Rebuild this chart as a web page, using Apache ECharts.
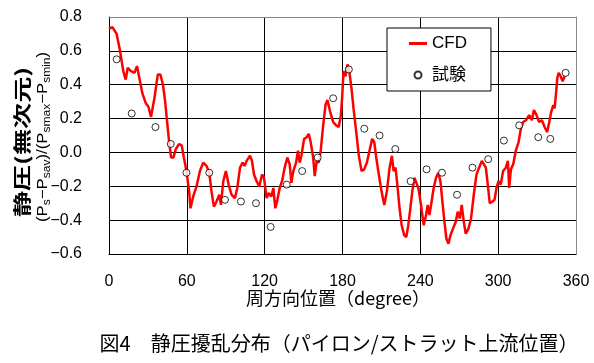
<!DOCTYPE html>
<html>
<head>
<meta charset="utf-8">
<script src="https://cdn.jsdelivr.net/npm/echarts@6/dist/echarts.min.js"></script>
<style>
html,body{margin:0;padding:0;background:#fff;}
#chart{width:594px;height:363px;}
</style>
</head>
<body>
<div id="chart"></div>
<script>
// ---- data ----
const cfdDeg = [0,2.6,5.9,8.5,11,12.9,14.4,17,19.6,21.6,23.4,25.7,28.4,30.4,32.4,35,37.6,39.6,41.6,43.3,44.8,46.4,47.9,49.7,51.5,54.1,56.1,57.7,59.7,61.8,62.8,64.9,67.5,70.1,72.6,75.2,77.3,79,80.9,82.9,85,86.3,88.1,90.1,92.2,94.5,97.1,98.9,101,103,104.5,106.1,108.7,110.2,111.8,113.8,115.9,118,119.5,121.5,123.1,125.1,126.7,128.2,129.8,131.6,133.4,135.4,137.5,139.3,140.6,142.1,144.2,145.7,147,148.3,150.4,152.4,154,155.5,157.4,158.6,160.1,161.7,163.2,165.1,166.9,168.4,170.5,172.8,175.1,177.1,178.7,179.7,180.8,182.3,183.9,185.4,186.9,188.5,190.6,192.6,194.7,196.7,198.8,200.3,201.4,202.9,204.5,206,208,210.1,212.2,214.2,216.3,218.1,219.4,220.9,222.5,224,225.6,227.6,229.2,230.7,232.3,233.8,235.4,236.6,238.5,240.5,242.6,244.4,245.7,247,248.7,250.3,252.1,253.9,255.5,257,258.6,260.1,261.7,263.2,265.2,267.3,268.8,270.4,271.9,273.5,275,277.1,279.1,281.2,283.3,285.3,287.4,288.9,290.5,292,293.5,295.6,297.2,298.7,300.3,302,303.8,305.9,307.5,308.5,309.8,311.6,313.6,315.7,317.5,319.3,321.4,323.9,326,327.5,329.6,331.6,333.7,335.8,337.8,339.4,340.9,342.5,343.5,344.5,345.6,346.6,348.2,349.7,351.3];
const cfdVal = [0.73,0.74,0.70,0.60,0.48,0.43,0.50,0.48,0.47,0.51,0.44,0.35,0.29,0.27,0.21,0.32,0.46,0.46,0.40,0.30,0.18,0.06,-0.03,-0.03,0.02,0.05,0.04,-0.03,-0.11,-0.23,-0.33,-0.26,-0.20,-0.11,-0.06,-0.08,-0.12,-0.23,-0.32,-0.29,-0.25,-0.31,-0.17,-0.11,-0.19,-0.25,-0.27,-0.21,-0.09,-0.06,-0.08,-0.05,-0.02,-0.05,-0.13,-0.17,-0.20,-0.13,-0.15,-0.27,-0.24,-0.26,-0.21,-0.33,-0.28,-0.21,-0.17,-0.09,-0.03,-0.07,-0.18,-0.11,-0.06,0.01,-0.06,-0.02,0.08,0.09,0.11,0.06,-0.03,-0.14,-0.05,-0.06,0.01,0.16,0.28,0.31,0.24,0.18,0.16,0.15,0.22,0.32,0.48,0.45,0.52,0.47,0.38,0.26,0.12,-0.02,-0.11,-0.10,-0.06,-0.07,0.03,0.08,0.06,-0.03,-0.13,-0.23,-0.31,-0.23,-0.09,-0.02,-0.11,-0.09,-0.21,-0.33,-0.43,-0.49,-0.50,-0.43,-0.33,-0.23,-0.15,-0.14,-0.21,-0.31,-0.43,-0.37,-0.31,-0.37,-0.29,-0.21,-0.15,-0.12,-0.17,-0.29,-0.41,-0.51,-0.54,-0.49,-0.45,-0.41,-0.35,-0.39,-0.31,-0.41,-0.48,-0.45,-0.39,-0.25,-0.13,-0.09,-0.05,-0.05,-0.09,-0.19,-0.30,-0.29,-0.28,-0.21,-0.17,-0.19,-0.11,-0.09,-0.05,-0.21,-0.10,-0.07,0.01,0.06,0.14,0.18,0.19,0.22,0.19,0.25,0.22,0.18,0.19,0.15,0.12,0.18,0.24,0.28,0.26,0.34,0.44,0.47,0.45,0.42,0.45];
const testDeg = [5.9,17.5,35.8,47.6,59.7,77.3,89.4,101.7,113.3,124.6,137,148.9,160.9,172.8,184.9,196.8,208.6,220.7,232.5,244.8,256.7,268.3,280.2,292.3,304.4,316.2,330.9,340.2,352];
const testVal = [0.55,0.23,0.15,0.05,-0.12,-0.12,-0.28,-0.29,-0.30,-0.44,-0.19,-0.11,-0.03,0.32,0.49,0.14,0.10,0.02,-0.17,-0.10,-0.12,-0.25,-0.09,-0.04,0.07,0.16,0.09,0.08,0.47];
const seriesNames = ['CFD', '試験'];
const xTicks = {min: 0, max: 360, interval: 60};
const yTicks = {min: -0.6, max: 0.8, interval: 0.2};
const xTitle = '周方向位置（degree）';
const yTitle1 = '静圧(無次元)';
const caption = '図4　静圧擾乱分布（パイロン/ストラット上流位置）';

// ---- chart ----
const FONT = '"Liberation Sans", Arial, "Noto Sans CJK JP", sans-serif';
const JFONT = '"Noto Sans CJK JP", "Liberation Sans", sans-serif';
const chart = echarts.init(document.getElementById('chart'), null, {renderer: 'canvas'});
const cfdData = cfdDeg.map((d, i) => [d, cfdVal[i]]);
const testData = testDeg.map((d, i) => [d, testVal[i]]);

const option = {
  animation: false,
  backgroundColor: '#fff',
  grid: {left: 109, right: 18, top: 17, bottom: 109, containLabel: false, show: false},
  xAxis: [{
    type: 'value', min: xTicks.min, max: xTicks.max, interval: xTicks.interval,
    axisLine: {show: true, onZero: false, lineStyle: {color: '#000', width: 1}},
    axisTick: {show: false},
    axisLabel: {color: '#000', fontSize: 16, fontFamily: FONT, margin: 20},
    splitLine: {show: true, lineStyle: {color: '#000', width: 1, type: 'solid', opacity: 1}}
  }, {
    type: 'value', position: 'top', min: xTicks.min, max: xTicks.max, interval: xTicks.interval,
    axisLine: {show: true, onZero: false, lineStyle: {color: '#888', width: 1}},
    axisTick: {show: false}, axisLabel: {show: false}, splitLine: {show: false}
  }],
  yAxis: [{
    type: 'value', min: yTicks.min, max: yTicks.max, interval: yTicks.interval,
    axisLine: {show: true, onZero: false, lineStyle: {color: '#000', width: 1}},
    axisTick: {show: false},
    axisLabel: {color: '#000', fontSize: 16, fontFamily: FONT, margin: 27,
      formatter: v => v.toFixed(1).replace('-', '−')},
    splitLine: {show: true, lineStyle: {color: '#000', width: 1, type: 'solid', opacity: 1}}
  }, {
    type: 'value', position: 'right', min: yTicks.min, max: yTicks.max, interval: yTicks.interval,
    axisLine: {show: true, onZero: false, lineStyle: {color: '#888', width: 1}},
    axisTick: {show: false}, axisLabel: {show: false},
    splitLine: {show: true, lineStyle: {color: '#000', width: 1, type: 'solid', opacity: 1}}
  }],
  legend: {
    left: 387, top: 28, orient: 'vertical',
    data: [{name: seriesNames[0], icon: 'path://M0,0M18,16M0,6.5H18V9.5H0Z'},
      {name: seriesNames[1], icon: 'path://M0,0M16,16M11.5,8A3.5,3.5,0,1,1,4.5,8A3.5,3.5,0,1,1,11.5,8Z'}],
    itemWidth: 18, itemHeight: 16, itemGap: 14,
    padding: [7, 24, 7, 22],
    backgroundColor: '#fff', borderColor: '#000', borderWidth: 1, borderRadius: 0,
    textStyle: {color: '#000', fontSize: 17, fontFamily: FONT}
  },
  series: [{
    name: seriesNames[0], type: 'line', data: cfdData,
    symbol: 'none', smooth: false,
    lineStyle: {color: '#ff0000', width: 2.5},
    itemStyle: {color: '#ff0000'}, z: 3
  }, {
    name: seriesNames[1], type: 'scatter', data: testData,
    symbol: 'circle', symbolSize: 7,
    itemStyle: {color: '#fff', borderColor: '#000', borderWidth: 1}, z: 4
  }],
  graphic: [
    {type: 'text', x: 22, y: 142, rotation: Math.PI / 2, scaleX: 1.45,
      style: {text: yTitle1, fontSize: 18, fontWeight: 'bold', fontFamily: JFONT,
        fill: '#000', align: 'center', verticalAlign: 'middle'}},
    {type: 'text', x: 43, y: 137, rotation: Math.PI / 2, scaleX: 1.2,
      style: {text: '{n|(P}{s|s}{n|−P}{s|sav}{n|)/(P}{s|smax}{n|−P}{s|smin}{n|)}',
        fill: '#000', align: 'center', verticalAlign: 'middle',
        rich: {
          n: {fontSize: 14, fontFamily: FONT, lineHeight: 18, verticalAlign: 'middle', fill: '#000'},
          s: {fontSize: 10, fontFamily: FONT, lineHeight: 18, verticalAlign: 'bottom', fill: '#000'}
        }}},
    {type: 'text', x: 338, y: 298,
      style: {text: xTitle, fontSize: 18, fontFamily: JFONT, fill: '#000', align: 'center', verticalAlign: 'middle'}},
    {type: 'text', x: 339, y: 343,
      style: {text: caption, fontSize: 20, fontFamily: JFONT, fill: '#000', align: 'center', verticalAlign: 'middle'}}
  ]
};
chart.setOption(option);
</script>
</body>
</html>
